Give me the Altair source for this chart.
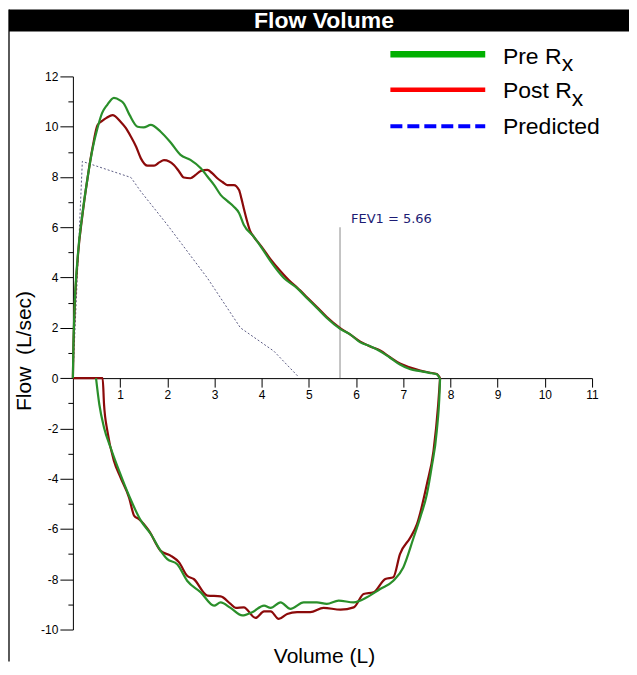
import altair as alt
import pandas as pd

# ---------------- data ----------------
pre_exp_vol = [0, 0.01, 0.03, 0.1, 0.2, 0.31, 0.42, 0.52, 0.62, 0.72, 0.87, 1.0, 1.08, 1.2, 1.37, 1.5,
               1.65, 1.86, 2.08, 2.28, 2.49, 2.71, 2.85, 2.99, 3.13, 3.27, 3.41, 3.52, 3.62, 3.83, 4.0,
               4.19, 4.47, 4.75, 4.96, 5.17, 5.38, 5.67, 5.88, 6.09, 6.3, 6.51, 6.72, 6.93, 7.15, 7.36,
               7.55, 7.71, 7.77]
pre_exp_flow = [0, 1.2, 2.53, 4.78, 6.5, 7.95, 9.15, 9.94, 10.55, 10.85, 11.15, 11.05, 10.92, 10.47, 10.0,
                9.97, 10.07, 9.8, 9.35, 8.88, 8.68, 8.35, 8.02, 7.69, 7.29, 7.05, 6.82, 6.57, 6.1, 5.63,
                5.18, 4.64, 3.98, 3.58, 3.18, 2.79, 2.39, 1.95, 1.73, 1.42, 1.27, 1.07, 0.81, 0.54, 0.35,
                0.28, 0.21, 0.15, 0.0]

post_exp_vol = [0, 0.01, 0.03, 0.1, 0.2, 0.31, 0.42, 0.52, 0.62, 0.72, 0.84, 1.01, 1.12, 1.23, 1.34, 1.44,
                1.58, 1.72, 1.83, 1.93, 2.04, 2.14, 2.25, 2.35, 2.49, 2.6, 2.71, 2.85, 2.95, 3.06, 3.17,
                3.27, 3.41, 3.52, 3.57, 3.62, 3.69, 3.76, 3.83, 4.0, 4.19, 4.4, 4.6, 4.75, 4.96, 5.17,
                5.38, 5.67, 5.88, 6.09, 6.3, 6.51, 6.72, 6.93, 7.15, 7.36, 7.55, 7.71, 7.78]
post_exp_flow = [0, 1.1, 2.4, 4.7, 6.45, 7.95, 9.2, 10.06, 10.23, 10.36, 10.46, 10.2, 9.95, 9.6, 9.2, 8.74,
                 8.45, 8.45, 8.58, 8.67, 8.62, 8.48, 8.22, 7.98, 7.95, 8.08, 8.24, 8.28, 8.15, 7.95, 7.8,
                 7.68, 7.68, 7.48, 7.15, 6.76, 6.25, 5.83, 5.63, 5.22, 4.72, 4.25, 3.85, 3.6, 3.22, 2.83,
                 2.43, 1.98, 1.73, 1.45, 1.26, 1.1, 0.83, 0.58, 0.42, 0.3, 0.22, 0.16, 0.0]

pre_insp_vol = [0.49, 0.56, 0.66, 0.80, 0.98, 1.19, 1.44, 1.65, 1.86, 2.0, 2.21, 2.42, 2.71, 2.99, 3.13,
                3.34, 3.59, 3.80, 4.05, 4.19, 4.40, 4.61, 4.89, 5.17, 5.38, 5.63, 5.95, 6.23, 6.51, 6.79,
                7.0, 7.22, 7.36, 7.50, 7.60, 7.71, 7.77, 7.78]
pre_insp_flow = [0, -1.05, -1.97, -2.77, -3.69, -4.68, -5.67, -6.2, -6.87, -7.2, -7.4, -8.06, -8.52, -9.05,
                 -8.92, -9.14, -9.44, -9.31, -9.05, -9.14, -8.92, -9.18, -8.92, -8.92, -8.98, -8.85, -8.92,
                 -8.72, -8.39, -8.06, -7.53, -6.34, -5.54, -4.62, -3.56, -2.10, -0.52, 0]

post_insp_vol = [0, 0.63, 0.66, 0.73, 0.87, 1.01, 1.19, 1.30, 1.40, 1.61, 1.86, 2.07, 2.25, 2.42, 2.56,
                 2.85, 3.13, 3.34, 3.45, 3.62, 3.87, 4.05, 4.19, 4.36, 4.54, 4.75, 5.03, 5.31, 5.67, 5.95,
                 6.16, 6.37, 6.62, 6.79, 6.93, 7.15, 7.29, 7.50, 7.64, 7.74, 7.78]
post_insp_flow = [0, 0, -1.05, -2.1, -3.29, -3.96, -4.75, -5.48, -5.61, -6.07, -6.87, -7.06, -7.33, -7.86,
                  -7.99, -8.65, -8.68, -8.98, -9.14, -9.12, -9.54, -9.28, -9.28, -9.58, -9.38, -9.31,
                  -9.31, -9.14, -9.21, -9.12, -8.59, -8.52, -7.99, -7.92, -7.0, -6.34, -5.81, -4.22,
                  -2.9, -1.05, 0]

pred_vol = [0, 0.2, 1.23, 1.44, 2.0, 2.85, 3.55, 4.26, 4.78]
pred_flow = [0, 8.62, 7.98, 7.42, 6.1, 3.98, 2.0, 1.07, 0.05]

fev1_vol = [5.66]
fev1_top = [6]
fev1_label = ["FEV1 = 5.66"]

x_ticks = list(range(1, 12))
y_ticks = list(range(-10, 13))


def mk(seg, vols, flows):
    return pd.DataFrame({"seg": seg, "vol": vols, "flow": flows, "idx": list(range(len(vols)))})


post_df = pd.concat([mk("exp", post_exp_vol, post_exp_flow), mk("insp", post_insp_vol, post_insp_flow)])
pre_df = pd.concat([mk("exp", pre_exp_vol, pre_exp_flow), mk("insp", pre_insp_vol, pre_insp_flow)])
pred_df = mk("pred", pred_vol, pred_flow)
fev_df = pd.DataFrame({"vol": fev1_vol, "flow": [0], "top": fev1_top, "label": fev1_label})
one = pd.DataFrame({"a": [0]})

W, H = 520, 554
FONT = "Liberation Sans"

xs = alt.Scale(domain=[0, 11], nice=False, zero=False)
ys = alt.Scale(domain=[-10, 12], nice=False, zero=False)
x_off = -H * 10 / 22

x_axis = alt.Axis(values=x_ticks, offset=x_off, title=None, grid=False, domainColor="black",
                  domainWidth=1, tickColor="black", tickSize=9, tickWidth=1, labelFont=FONT,
                  labelFontSize=12, labelColor="black", labelPadding=2, labelFlush=False)
y_axis = alt.Axis(values=y_ticks, title=None, grid=False, domainColor="black", domainWidth=1,
                  tickColor="black", tickWidth=1,
                  tickSize={"condition": {"test": "datum.value % 2 == 0", "value": 13}, "value": 5},
                  labelExpr="datum.value % 2 == 0 ? '' + datum.value : ''",
                  labelFont=FONT, labelFontSize=12, labelColor="black", labelPadding=2)

X = alt.X("vol:Q", scale=xs, axis=x_axis)
Y = alt.Y("flow:Q", scale=ys, axis=y_axis)

pred = alt.Chart(pred_df).mark_line(color="#5c5c84", strokeWidth=1, strokeDash=[2, 2]).encode(
    x=X, y=Y, order="idx:Q")

fev_rule = alt.Chart(fev_df).mark_rule(color="#8a8a8a", strokeWidth=1).encode(
    x=X, y=Y, y2="top:Q")
fev_text = alt.Chart(fev_df).mark_text(align="left", baseline="alphabetic", dx=11, dy=-4,
                                       font="DejaVu Sans", fontSize=13, color="#1c1c74").encode(
    x=X, y=alt.Y("top:Q", scale=ys, axis=y_axis), text="label:N")

post = alt.Chart(post_df).mark_line(interpolate="monotone", color="#8b0a0a", strokeWidth=2.2).encode(
    x=X, y=Y, detail="seg:N", order="idx:Q")
pre = alt.Chart(pre_df).mark_line(interpolate="monotone", color="#2a8f2a", strokeWidth=2.2).encode(
    x=X, y=Y, detail="seg:N", order="idx:Q")

# ---- frame / title bar ----
L, R, T = -64, 557, -67
frame = alt.Chart(one).mark_rule(color="black", strokeWidth=1.3).encode(
    x=alt.value(L), y=alt.value(T), y2=alt.value(586))
bar = alt.Chart(one).mark_rect(color="black").encode(
    x=alt.value(L), x2=alt.value(R), y=alt.value(T), y2=alt.value(-45))
title = alt.Chart(one).mark_text(text="Flow Volume", font=FONT, fontSize=23, fontWeight="bold",
                                 color="white", align="center", baseline="alphabetic").encode(
    x=alt.value(251.5), y=alt.value(-49))

# ---- axis titles ----
xtitle = alt.Chart(one).mark_text(text="Volume (L)", font=FONT, fontSize=21, color="black",
                                  align="center", baseline="alphabetic").encode(
    x=alt.value(252), y=alt.value(588))
ytitle = alt.Chart(one).mark_text(text="Flow\u00a0 (L/sec)", font=FONT, fontSize=21, color="black",
                                  align="center", baseline="middle", angle=270).encode(
    x=alt.value(-48), y=alt.value(275))

# ---- legend ----
LX1, LX2, TX = 318, 413, 430.7
leg = []
leg.append(alt.Chart(one).mark_rule(color="#00b000", strokeWidth=6.5).encode(
    x=alt.value(LX1), x2=alt.value(LX2), y=alt.value(-22.3)))
leg.append(alt.Chart(one).mark_rule(color="#ff0000", strokeWidth=4.5).encode(
    x=alt.value(LX1), x2=alt.value(LX2), y=alt.value(13.3)))
leg.append(alt.Chart(one).mark_rule(color="#0000ff", strokeWidth=4, strokeDash=[12, 5]).encode(
    x=alt.value(LX1), x2=alt.value(LX2), y=alt.value(50)))
for txt, xx, yy in [("Pre R", TX, -12.3), ("x", 489.7, -5), ("Post R", TX, 21.7), ("x", 499.7, 30),
                    ("Predicted", TX, 58)]:
    leg.append(alt.Chart(one).mark_text(text=txt, font=FONT, fontSize=23, color="black",
                                        align="left", baseline="alphabetic").encode(
        x=alt.value(xx), y=alt.value(yy)))

chart = alt.layer(pred, fev_rule, fev_text, post, pre, frame, bar, title, xtitle, ytitle, *leg).properties(
    width=W, height=H, padding=0, background="white"
).configure_view(stroke=None)

chart.save("out.html", embed_options={"renderer": "svg", "actions": False})
